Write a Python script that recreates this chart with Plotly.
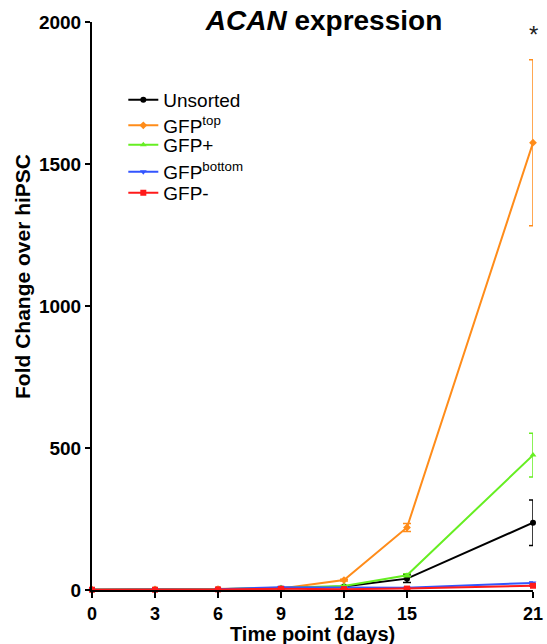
import plotly.graph_objects as go

days = [0, 3, 6, 9, 12, 15, 21]
x_ticks = [0, 3, 6, 9, 12, 15, 21]
y_ticks = [0, 500, 1000, 1500, 2000]

unsorted = [1, 2, 3, 5, 12, 40, 237]
unsorted_err = [0, 0, 0, 1, 3, 14, 80]
gfp_top = [1, 2, 3, 5, 35, 220, 1575]
gfp_top_err = [0, 0, 0, 1, 3, 14, 292]
gfp_plus = [1, 2, 3, 8, 14, 52, 475]
gfp_plus_err = [0, 0, 0, 1, 2, 5, 77]
gfp_bottom = [1, 2, 3, 10, 8, 8, 25]
gfp_bottom_err = [0, 0, 0, 1, 1, 1, 3]
gfp_minus = [1, 1, 2, 4, 3, 5, 15]
gfp_minus_err = [0, 0, 0, 1, 1, 1, 2]

series = [
    ("Unsorted", unsorted, unsorted_err, "#000000", "circle"),
    ("GFP<sup>top</sup>", gfp_top, gfp_top_err, "#FF8C1A", "diamond"),
    ("GFP+", gfp_plus, gfp_plus_err, "#66EE22", "triangle-up"),
    ("GFP<sup>bottom</sup>", gfp_bottom, gfp_bottom_err, "#3355FF", "triangle-down"),
    ("GFP-", gfp_minus, gfp_minus_err, "#FF1A1A", "square"),
]

FONT = "Liberation Sans"
PLOT_TOP, PLOT_BOTTOM = 22, 590
legend_rows_px = [100, 125.5, 145, 172, 193]

fig = go.Figure()
layout_legends = {}
for i, (name, vals, err, color, sym) in enumerate(series):
    key = "legend" if i == 0 else f"legend{i + 1}"
    fig.add_trace(go.Scatter(
        x=days, y=vals, name=name, mode="lines+markers",
        line=dict(color=color, width=2),
        marker=dict(color=color, symbol=sym, size=6),
        error_y=dict(type="data", array=err, visible=True, color=color,
                     thickness=1.5, width=4),
        cliponaxis=False,
        legend=key,
    ))
    py = legend_rows_px[i]
    layout_legends[key] = dict(
        x=0.071, y=(PLOT_BOTTOM - py) / (PLOT_BOTTOM - PLOT_TOP),
        xanchor="left", yanchor="middle",
        font=dict(size=19, family=FONT, color="black"),
        bgcolor="rgba(0,0,0,0)", borderwidth=0,
    )

fig.add_annotation(x=21, y=1955, text="*", showarrow=False,
                   font=dict(size=24, color="#222", family=FONT))
fig.add_annotation(xref="paper", yref="paper", x=0.5, y=-(634 - PLOT_BOTTOM) / (PLOT_BOTTOM - PLOT_TOP),
                   text="<b>Time point (days)</b>", showarrow=False, yanchor="middle",
                   font=dict(size=20, family=FONT, color="black"))
fig.add_annotation(xref="paper", yref="paper", x=-(92 - 22) / 441, y=(PLOT_BOTTOM - 277) / (PLOT_BOTTOM - PLOT_TOP),
                   text="<b>Fold Change over hiPSC</b>", showarrow=False, textangle=-90,
                   xanchor="center", yanchor="middle",
                   font=dict(size=21, family=FONT, color="black"))

fig.update_layout(
    width=547, height=644,
    margin=dict(l=92, r=14, t=PLOT_TOP, b=644 - PLOT_BOTTOM),
    paper_bgcolor="white", plot_bgcolor="white",
    font=dict(family=FONT, color="black"),
    title=dict(text="<b><i>ACAN</i> expression</b>", x=324 / 547, xanchor="center",
               y=1 - 20 / 644, yanchor="middle", font=dict(size=28, family=FONT)),
    xaxis=dict(range=[0, 21], tickvals=x_ticks, ticktext=[f"<b>{v}</b>" for v in x_ticks],
               showline=True, linecolor="black", linewidth=2, showgrid=False, zeroline=False,
               ticks="outside", ticklen=6, tickwidth=2, tickcolor="black",
               tickfont=dict(size=18, family=FONT), automargin=False),
    yaxis=dict(range=[0, 2000], tickvals=y_ticks, ticktext=[f"<b>{v}</b>" for v in y_ticks],
               showline=True, linecolor="black", linewidth=2, showgrid=False, zeroline=False,
               ticks="outside", ticklen=5, tickwidth=2, tickcolor="black",
               tickfont=dict(size=19, family=FONT), automargin=False),
    showlegend=True,
    **layout_legends,
)

fig.write_html("out.html")
